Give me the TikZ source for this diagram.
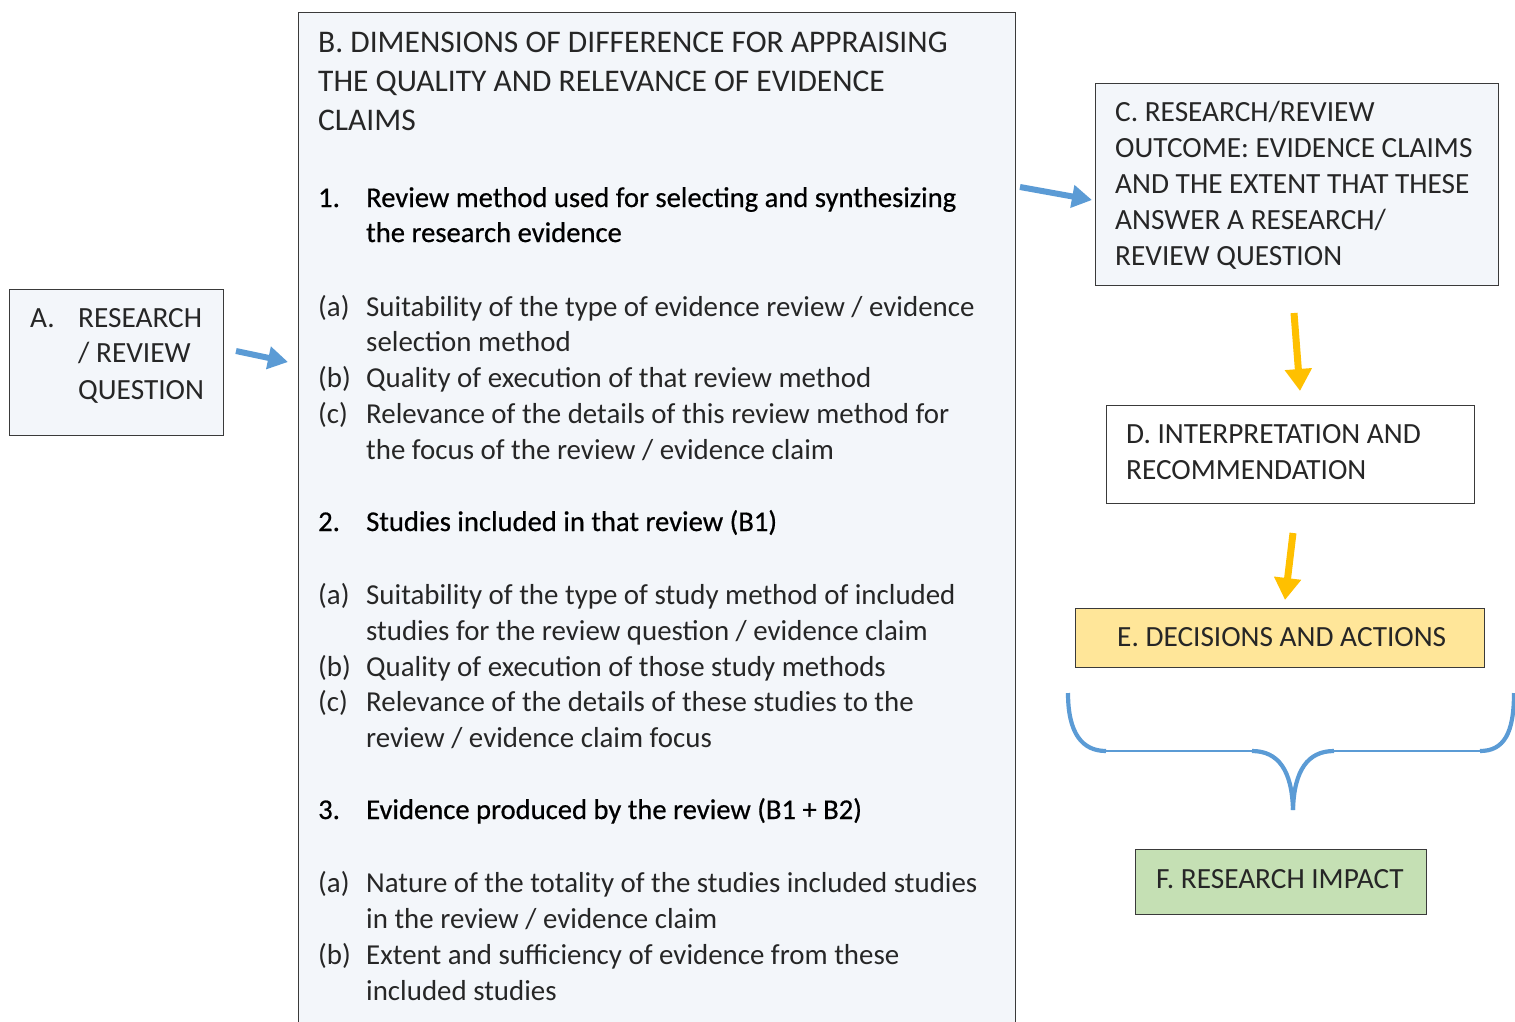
\documentclass[tikz,border=0pt]{standalone}
\usepackage{fontspec}
\setmainfont{Carlito}
\newfontfamily\headfont{Carlito}[FakeBold=0.6]
\usetikzlibrary{arrows.meta}
\definecolor{boxfill}{HTML}{F3F6FA}
\definecolor{boxline}{HTML}{3A3A3A}
\definecolor{arrblue}{HTML}{5B9BD5}
\definecolor{arryel}{HTML}{FFC000}
\definecolor{efill}{HTML}{FFE699}
\definecolor{ffill}{HTML}{C5E0B4}
\definecolor{lighttext}{HTML}{262626}
\tikzset{
  box/.style={draw=boxline, line width=1.3pt, inner sep=0pt, anchor=north west},
  txt/.style={anchor=base west, inner sep=0pt, text=lighttext, font=\fontsize{28.9}{34}\selectfont},
  ttl/.style={anchor=base west, inner sep=0pt, text=lighttext, font=\fontsize{31.5}{34}\selectfont},
  rtxt/.style={anchor=base west, inner sep=0pt, text=lighttext, font=\fontsize{29.3}{34}\selectfont},
  head/.style={anchor=base west, inner sep=0pt, text=black, font=\headfont\fontsize{28.6}{34}\selectfont},
  bluearrow/.style={draw=arrblue, line width=6pt, -{Triangle[length=20pt,width=22pt]}},
  yelarrow/.style={draw=arryel, line width=7pt, -{Triangle[length=22pt,width=26pt]}},
  bracethin/.style={draw=arrblue, line width=2pt},
  bracethick/.style={draw=arrblue, line width=4.2pt},
}
\newcommand{\tl}[5][txt]{\node[#1] (#2) at (#3,#4+9) {#5};}
\begin{document}
\begin{tikzpicture}[x=1pt,y=-1pt]
\useasboundingbox (0,0) rectangle (1515,1021);
% boxes
\node[box, fill=boxfill, minimum width=214pt, minimum height=146pt] (A) at (9,289) {};
\node[box, fill=boxfill, minimum width=717pt, minimum height=1060pt] (B) at (298,12) {};
\node[box, fill=boxfill, minimum width=403pt, minimum height=202pt] (C) at (1095,83) {};
\node[box, fill=white, minimum width=368pt, minimum height=98pt] (D) at (1106,405) {};
\node[box, fill=efill, minimum width=409pt, minimum height=59pt] (E) at (1075,608) {};
\node[box, fill=ffill, minimum width=291pt, minimum height=65pt] (F) at (1135,849) {};
% box A text
\tl[rtxt]{a0}{30}{318}{A.}
\tl[rtxt]{a1}{78}{318}{RESEARCH}
\tl[rtxt]{a2}{78}{353}{/ REVIEW}
\tl[rtxt]{a3}{78}{390}{QUESTION}
% box B text
\tl[ttl]{bt1}{318}{43}{B. DIMENSIONS OF DIFFERENCE FOR APPRAISING}
\tl[ttl]{bt2}{318}{82}{THE QUALITY AND RELEVANCE OF EVIDENCE}
\tl[ttl]{bt3}{318}{121}{CLAIMS}
\tl[head]{h1n}{318}{198}{1.}
\tl[head]{h1a}{366}{198}{Review method used for selecting and synthesizing}
\tl[head]{h1b}{366}{233}{the research evidence}
\tl{l1a}{318}{307}{(a)}
\tl{t1a}{366}{307}{Suitability of the type of evidence review / evidence}
\tl{t1a2}{366}{342}{selection method}
\tl{l1b}{318}{378}{(b)}
\tl{t1b}{366}{378}{Quality of execution of that review method}
\tl{l1c}{318}{414}{(c)}
\tl{t1c}{366}{414}{Relevance of the details of this review method for}
\tl{t1c2}{366}{450}{the focus of the review / evidence claim}
\tl[head]{h2n}{318}{522}{2.}
\tl[head]{h2a}{366}{522}{Studies included in that review (B1)}
\tl{l2a}{318}{595}{(a)}
\tl{t2a}{366}{595}{Suitability of the type of study method of included}
\tl{t2a2}{366}{631}{studies for the review question / evidence claim}
\tl{l2b}{318}{667}{(b)}
\tl{t2b}{366}{667}{Quality of execution of those study methods}
\tl{l2c}{318}{702}{(c)}
\tl{t2c}{366}{702}{Relevance of the details of these studies to the}
\tl{t2c2}{366}{738}{review / evidence claim focus}
\tl[head]{h3n}{318}{810}{3.}
\tl[head]{h3a}{366}{810}{Evidence produced by the review (B1 + B2)}
\tl{l3a}{318}{883}{(a)}
\tl{t3a}{366}{883}{Nature of the totality of the studies included studies}
\tl{t3a2}{366}{919}{in the review / evidence claim}
\tl{l3b}{318}{955}{(b)}
\tl{t3b}{366}{955}{Extent and sufficiency of evidence from these}
\tl{t3b2}{366}{991}{included studies}
% box C text
\tl[rtxt]{c1}{1115}{112}{C. RESEARCH/REVIEW}
\tl[rtxt]{c2}{1115}{148}{OUTCOME: EVIDENCE CLAIMS}
\tl[rtxt]{c3}{1115}{184}{AND THE EXTENT THAT THESE}
\tl[rtxt]{c4}{1115}{220}{ANSWER A RESEARCH/}
\tl[rtxt]{c5}{1115}{256}{REVIEW QUESTION}
% box D text
\tl[rtxt]{d1}{1126}{434}{D. INTERPRETATION AND}
\tl[rtxt]{d2}{1126}{470}{RECOMMENDATION}
% E, F text
\tl[rtxt]{e1}{1117}{637}{E. DECISIONS AND ACTIONS}
\tl[rtxt]{f1}{1156}{879}{F. RESEARCH IMPACT}
% arrows
\coordinate (ab1) at (236,351);
\coordinate (ab2) at (288,362);
\coordinate (bc1) at (1020,187);
\coordinate (bc2) at (1092,200);
\coordinate (cd1) at (1294,313);
\coordinate (cd2) at (1300,391);
\coordinate (de1) at (1293,533);
\coordinate (de2) at (1285,600);
\draw[bluearrow] (ab1) -- (ab2);
\draw[bluearrow] (bc1) -- (bc2);
\draw[yelarrow] (cd1) -- (cd2);
\draw[yelarrow] (de1) -- (de2);
% brace
\coordinate (brl) at (1068,693);
\coordinate (brr) at (1514,693);
\coordinate (brtip) at (1293,810);
\coordinate (h1) at (1106,751);
\coordinate (h2) at (1252,751);
\coordinate (h3) at (1334,751);
\coordinate (h4) at (1480,751);
\draw[bracethin] (h1) -- (h2);
\draw[bracethin] (h3) -- (h4);
\draw[bracethick] (brl) .. controls (1068,733) and (1082,751) .. (h1);
\draw[bracethick] (h2) .. controls (1278,751) and (1292,770) .. (brtip);
\draw[bracethick] (brtip) .. controls (1294,770) and (1308,751) .. (h3);
\draw[bracethick] (h4) .. controls (1504,751) and (1514,733) .. (brr);
\end{tikzpicture}
\end{document}
